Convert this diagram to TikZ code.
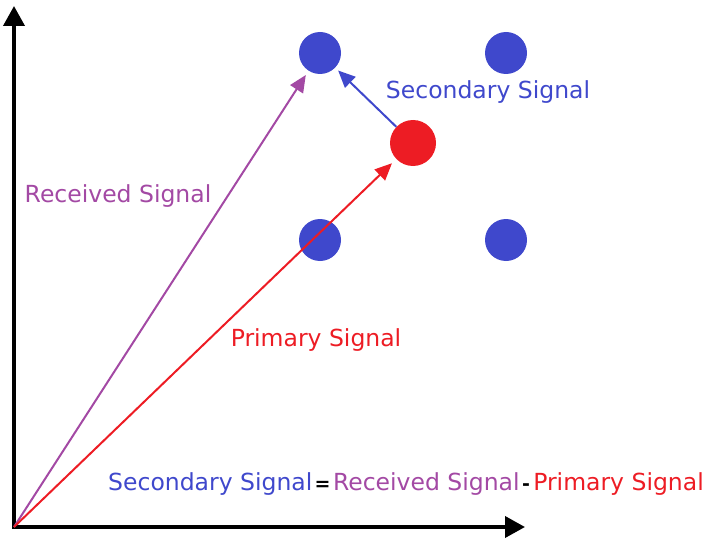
\documentclass[tikz,border=0pt]{standalone}
\usepackage{fontspec}
\setmainfont{DejaVu Sans}
\usetikzlibrary{arrows.meta}
\definecolor{pblue}{HTML}{3F48CC}
\definecolor{pred}{HTML}{ED1C24}
\definecolor{ppurple}{HTML}{A349A4}
\begin{document}
\begin{tikzpicture}[x=1pt,y=-1pt,
  dot/.style={circle,inner sep=0pt,minimum size=42pt},
  axis/.style={line width=3.8pt,-{Triangle[length=20pt,width=21pt]}},
  vec/.style={line width=2pt,-{Triangle[length=17pt,width=15pt]}},
  lbl/.style={font=\fontsize{23.5}{27}\selectfont,inner sep=0pt},
  op/.style={inner sep=0pt,font=\bfseries\fontsize{19}{22}\selectfont}]
\useasboundingbox (0,0) rectangle (708,540);
\coordinate (o) at (14,527);
\coordinate (ytop) at (14,6);
\coordinate (xend) at (525,527);
\draw[axis] (o) -- (ytop);
\draw[axis] ([xshift=-1.9pt]o) -- (xend);
\node[dot,fill=pblue] (b1) at (320,53) {};
\node[dot,fill=pblue] (b2) at (506,53) {};
\node[dot,fill=pblue] (b3) at (320,240) {};
\node[dot,fill=pblue] (b4) at (506,240) {};
\node[dot,fill=pred,minimum size=46pt] (r) at (413,143) {};
\draw[vec,ppurple] (o) -- (b1) [shorten >=5pt];
\draw[vec,pred] (o) -- (r) [shorten >=6pt];
\draw[vec,pblue,shorten >=4pt] (r) -- (b1);
\node[lbl,text=pblue] (ls) at (488,92) {Secondary Signal};
\node[lbl,text=ppurple] (lr) at (118,196) {Received Signal};
\node[lbl,text=pred] (lp) at (316,340) {Primary Signal};
\node[lbl,anchor=base west,text=pblue] (e1) at (108,490) {Secondary Signal};
\node[op,anchor=base west] (e2) at (e1.base east) {\kern2pt=\kern2pt};
\node[lbl,anchor=base west,text=ppurple] (e3) at (e2.base east) {Received Signal};
\node[op,anchor=base west] (e4) at (e3.base east) {\kern2pt-\kern3pt};
\node[lbl,anchor=base west,text=pred] (e5) at (e4.base east) {Primary Signal};
\end{tikzpicture}
\end{document}
